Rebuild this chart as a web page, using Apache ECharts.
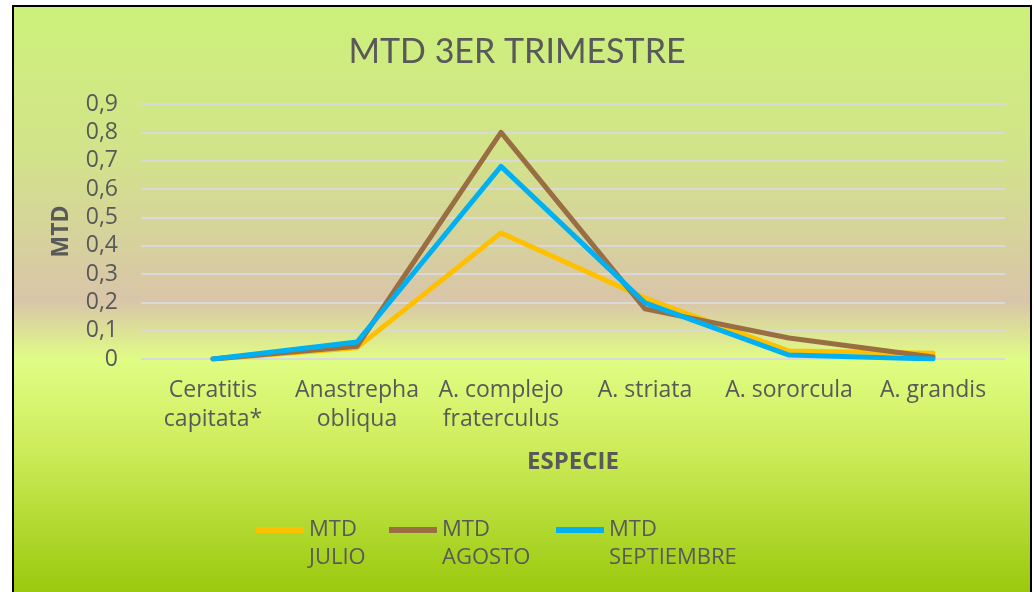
<!DOCTYPE html>
<html><head><meta charset="utf-8">
<script src="https://cdn.jsdelivr.net/npm/echarts@6/dist/echarts.min.js"></script>
<style>html,body{margin:0;padding:0;background:#fff}#c{width:1034px;height:592px}</style>
</head><body><div id="c"></div>
<script>
var categories = ['Ceratitis\ncapitata*', 'Anastrepha\nobliqua', 'A. complejo\nfraterculus', 'A. striata', 'A. sororcula', 'A. grandis'];
var julio = [0, 0.04, 0.445, 0.215, 0.028, 0.02];
var agosto = [0, 0.045, 0.80, 0.177, 0.074, 0.007];
var septiembre = [0, 0.06, 0.68, 0.198, 0.014, 0.0];
var seriesNames = ['MTD JULIO', 'MTD AGOSTO', 'MTD SEPTIEMBRE'];
var colors = ['#FFC000', '#9A6E43', '#00B0F0'];

var FONT = '"Open Sans", Lato, sans-serif';
var TFONT = 'Lato, "Open Sans", sans-serif';
var TXT = '#595959';
var chart = echarts.init(document.getElementById('c'));
var data = [julio, agosto, septiembre];
var legendLeft = [256, 389, 556];
chart.setOption({
  animation: false,
  graphic: [{
    type: 'rect', z: -10, silent: true,
    shape: {x: 13, y: 6, width: 1018, height: 590},
    style: {
      fill: new echarts.graphic.LinearGradient(0, 0, 0, 1, [
        {offset: 0, color: '#ccf17a'},
        {offset: 0.25, color: '#d2e38a'},
        {offset: 0.5, color: '#d9c5a9'},
        {offset: 0.6, color: '#e0fd84'},
        {offset: 0.75, color: '#cdec5a'},
        {offset: 1, color: '#98c80a'}
      ]),
      stroke: '#000', lineWidth: 2
    }
  }],
  title: {
    text: 'MTD 3ER TRIMESTRE', left: 'center', top: 30,
    textStyle: {fontFamily: TFONT, fontSize: 34, fontWeight: 'normal', color: TXT}
  },
  grid: {left: 141, right: 29, top: 104, bottom: 233, containLabel: false},
  xAxis: {
    type: 'category', data: categories, boundaryGap: true,
    name: 'ESPECIE', nameLocation: 'middle', nameGap: 91,
    nameTextStyle: {fontFamily: FONT, fontSize: 24, fontWeight: 'bold', color: TXT},
    axisLine: {show: false}, axisTick: {show: false},
    axisLabel: {fontFamily: FONT, fontSize: 23, color: TXT, lineHeight: 29, margin: 17, interval: 0}
  },
  yAxis: {
    type: 'value', min: 0, max: 0.9, interval: 0.1,
    name: 'MTD', nameLocation: 'middle', nameGap: 68, nameRotate: 90,
    nameTextStyle: {fontFamily: FONT, fontSize: 23, fontWeight: 'bold', color: TXT},
    axisLabel: {fontFamily: FONT, fontSize: 23, color: TXT, margin: 23,
      formatter: function (v) { return (Math.round(v * 10) / 10).toString().replace('.', ','); }},
    splitLine: {lineStyle: {color: '#d9d9d9', width: 2}}
  },
  legend: seriesNames.map(function (n, i) {
    return {
      data: [n], left: legendLeft[i], top: 516, padding: 0, itemWidth: 48, itemHeight: 34, itemGap: 0,
      icon: 'path://M0,0h48v6h-48z M0,34h0.001v0.001z',
      formatter: function (s) { return s.replace(' ', '\n'); },
      textStyle: {fontFamily: FONT, fontSize: 22, color: TXT, lineHeight: 28}
    };
  }),
  series: seriesNames.map(function (n, i) {
    return {
      name: n, type: 'line', data: data[i], symbol: 'none', smooth: false,
      lineStyle: {color: colors[i], width: 5, cap: 'round', join: 'round'},
      itemStyle: {color: colors[i]}
    };
  })
});
</script></body></html>
